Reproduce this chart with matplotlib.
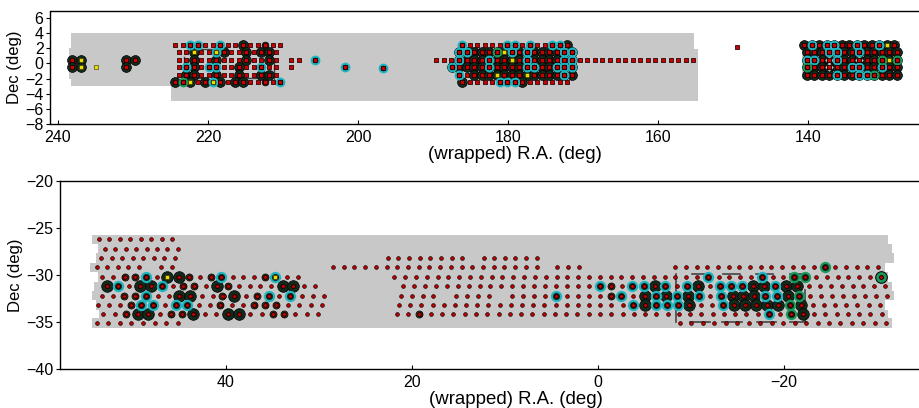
import numpy as np
import matplotlib
matplotlib.use("Agg")
import matplotlib.pyplot as plt
from matplotlib.patches import Polygon

plt.rcParams['font.family'] = ['Liberation Sans', 'DejaVu Sans']

# ---------------- top strip (equator) ----------------
# small pointings, rows given as (dec, first RA, last RA, number of pointings)
top_rows = [
    (2.5, 224.4, 210.4, 15), (1.5, 223.9, 210.9, 14), (0.5, 223.9, 210.9, 14),
    (-0.5, 223.9, 210.9, 14), (-1.5, 223.9, 210.9, 14), (-2.5, 224.4, 210.4, 15),
    (0.5, 208.9, 207.9, 2), (-0.5, 208.9, 208.9, 1),
    (0.5, 189.6, 155.3, 35),
    (2.5, 186.1, 172.1, 15), (1.5, 186.5, 171.5, 16), (-0.5, 187.5, 171.5, 17),
    (-1.5, 186.5, 171.5, 16), (-2.5, 186.1, 172.1, 15),
    (2.5, 140.5, 128.5, 13), (1.5, 140.2, 128.2, 13), (0.5, 140.2, 128.2, 13),
    (-0.5, 140.2, 128.2, 13), (-1.5, 140.2, 128.2, 13),
    (2.2, 149.5, 149.5, 1),
]
# fully observed blocks (dark big markers), same row format
top_dark_rows = [
    (1.5, 186.5, 171.5, 16), (0.5, 186.5, 171.5, 16), (-0.5, 187.5, 171.5, 17),
    (-1.5, 184.5, 171.5, 14),
    (2.5, 140.5, 128.5, 13), (1.5, 140.2, 128.2, 13), (0.5, 140.2, 128.2, 13),
    (-0.5, 140.2, 128.2, 13), (-1.5, 140.2, 128.2, 13),
]
top_dark = [(238.1, 0.5), (236.9, 0.5), (238.1, -0.5), (236.9, -0.5),
            (230.9, 0.5), (229.8, 0.5), (230.9, -0.5),
            (215.4, 2.5),
            (221.9, 1.5), (217.9, 1.5), (214.9, 1.5), (212.9, 1.5), (211.9, 1.5),
            (221.9, 0.5), (218.9, 0.5), (214.9, 0.5), (211.9, 0.5),
            (221.9, -0.5), (215.9, -0.5),
            (222.9, -1.5), (221.9, -1.5), (218.9, -1.5), (215.9, -1.5), (212.9, -1.5), (211.9, -1.5),
            (224.4, -2.5), (222.4, -2.5), (220.4, -2.5), (218.4, -2.5), (216.4, -2.5), (215.4, -2.5),
            (186.1, -2.5), (178.1, -2.5), (172.1, 2.5)]
top_medium = [(212.4, 2.5), (212.4, -2.5)]
top_cyan = [(222.4, 2.5), (221.4, 2.5), (218.4, 2.5), (218.9, 1.5),
            (222.9, -0.5), (219.9, -0.5), (218.9, -0.5), (212.9, -0.5),
            (219.4, -2.5), (210.4, -2.5),
            (205.7, 0.5), (201.7, -0.5), (196.7, -0.6),
            (186.1, 2.5), (180.1, 2.5), (179.1, 2.5), (177.1, 2.5), (174.1, 2.5), (173.1, 2.5),
            (186.5, 1.5), (185.5, 1.5), (179.5, 1.5), (177.5, 1.5), (172.5, 1.5), (171.5, 1.5),
            (186.5, 0.5), (182.5, 0.5), (177.5, 0.5), (172.5, 0.5), (171.5, 0.5),
            (187.5, -0.5), (182.5, -0.5), (177.5, -0.5), (176.5, -0.5), (173.5, -0.5),
            (172.5, -0.5), (171.5, -0.5),
            (186.5, -1.5), (172.5, -1.5),
            (181.1, -2.5), (180.1, -2.5), (179.1, -2.5),
            (139.5, 2.5), (137.5, 2.5), (136.5, 2.5), (133.5, 2.5), (130.5, 2.5),
            (137.2, 1.5), (136.2, 1.5), (133.2, 1.5),
            (140.2, 0.5), (139.2, 0.5), (136.2, 0.5),
            (134.2, -0.5), (133.2, -0.5), (130.2, -0.5),
            (136.2, -1.5), (133.2, -1.5), (132.2, -1.5)]
top_green = [(223.4, -2.5), (181.5, 1.5), (130.2, 0.5), (128.2, 0.5), (140.2, -0.5), (131.2, -1.5)]
top_yellow = [(236.9, 0.5), (236.9, -0.5), (234.9, -0.5), (221.9, 1.5), (218.9, 1.5),
              (222.4, -2.5), (219.4, -2.5), (180.5, 1.5), (179.5, 0.5), (181.5, -1.5),
              (177.5, -1.5), (129.5, 2.5), (129.2, 0.5)]
top_holes = [(137.2, 0.5), (137.2, -0.5), (133.2, 0.5)]
top_footprint = [(238.3, 4.0), (155.2, 4.0), (155.2, 1.9), (154.7, 1.9), (154.7, -5.0),
                 (225.0, -5.0), (225.0, -3.0), (238.3, -3.0), (238.3, -2.0), (238.6, -2.0),
                 (238.6, 2.0), (238.3, 2.0)]
top_footprint2 = [(140.8, 3.0), (127.8, 3.0), (127.8, -2.0), (140.8, -2.0)]
top_lines = [((221.1, 1.95), (219.3, 1.95)), ((213.5, 1.95), (211.5, 1.95)),
             ((223.2, 0.9), (223.2, -0.1)), ((211.2, 0.1), (211.2, -2.0)),
             ((214.8, -1.95), (212.8, -1.95)), ((221.6, -1.95), (220.2, -1.95))]

# ---------------- bottom strip (south) ----------------
bot_rows = [
    (-26.2, 53.7, 45.8, 8), (-27.2, 53.0, 45.2, 8),
    (-28.2, 53.4, 45.5, 8), (-28.2, 22.6, 14.6, 8), (-28.2, 12.3, 6.6, 6),
    (-29.2, 53.9, 49.4, 5), (-29.2, 47.0, 45.8, 2), (-29.2, 28.5, 6.6, 20),
    (-29.2, 4.4, 2.1, 3), (-29.2, -8.3, -30.1, 20),
    (-30.2, 53.3, 32.3, 19), (-30.2, 21.9, -30.4, 46),
    (-31.2, 52.8, 30.4, 20), (-31.2, 21.0, -30.9, 45),
    (-32.2, 53.3, 29.5, 21), (-32.2, 21.2, 17.7, 4), (-32.2, 15.3, 11.7, 4),
    (-32.2, 9.3, -31.1, 35),
    (-33.2, 53.8, 29.7, 21), (-33.2, 21.4, -30.3, 44),
    (-34.2, 53.2, 30.1, 20), (-34.2, 21.6, -30.5, 44),
    (-35.1, 53.9, 45.2, 8), (-35.1, -8.8, -31.0, 19),
]
bot_dark = [(45.1, -30.2), (46.3, -30.2),
            (52.8, -31.2), (49.2, -31.2), (48.1, -31.2), (41.0, -31.2), (33.9, -31.2), (32.8, -31.2),
            (45.1, -32.2), (43.9, -32.2), (39.1, -32.2),
            (49.5, -34.2), (48.4, -34.2), (43.5, -34.2), (39.8, -34.2), (38.6, -34.2),
            (-6.1, -31.2), (-10.8, -31.2), (-16.7, -31.2), (-17.8, -31.2), (-20.2, -31.2), (-21.4, -31.2),
            (-5.0, -32.2), (-7.3, -32.2), (-9.7, -32.2), (-14.5, -32.2), (-15.6, -32.2),
            (-16.8, -32.2), (-20.4, -32.2),
            (-5.0, -33.2), (-9.8, -33.2), (-14.6, -33.2), (-15.8, -33.2), (-17.0, -33.2),
            (-18.2, -33.2), (-19.4, -33.2), (-21.8, -33.2),
            (-22.0, -34.2)]
bot_medium = [(50.9, -30.2), (49.8, -30.2), (44.0, -30.2), (41.6, -30.2), (35.8, -30.2),
              (44.6, -31.2), (43.4, -31.2), (39.8, -31.2),
              (51.0, -32.2), (49.8, -32.2), (40.4, -32.2), (36.7, -32.2),
              (50.2, -33.2), (40.6, -33.2), (37.0, -33.2), (35.8, -33.2), (34.6, -33.2),
              (50.8, -34.2), (45.9, -34.2), (44.7, -34.2), (35.0, -34.2), (33.8, -34.2),
              (19.2, -34.2), (-1.4, -31.2), (-1.4, -32.2)]
bot_cyan = [(48.6, -30.2), (40.5, -30.2), (34.7, -30.2),
            (51.6, -31.2), (46.9, -31.2),
            (48.6, -32.2), (35.4, -32.2), (33.1, -32.2),
            (49.1, -33.2), (47.8, -33.2), (45.4, -33.2), (44.2, -33.2),
            (4.5, -32.2), (-0.2, -31.2), (-3.7, -31.2), (-4.9, -31.2), (-7.2, -31.2),
            (-2.5, -32.2), (-6.2, -32.2), (-8.5, -32.2),
            (-3.8, -33.2), (-6.2, -33.2), (-7.4, -33.2), (-8.6, -33.2),
            (-11.8, -30.2), (-17.6, -30.2),
            (-9.6, -31.2), (-13.1, -31.2), (-14.3, -31.2), (-15.5, -31.2), (-19.0, -31.2),
            (-10.9, -32.2), (-13.2, -32.2), (-18.0, -32.2), (-19.2, -32.2),
            (-13.4, -33.2), (-18.4, -34.2)]
bot_green = [(-24.4, -29.2), (-21.1, -30.2), (-22.3, -30.2), (-21.6, -32.2),
             (-20.6, -33.2), (-20.8, -34.2)]
bot_green_full = [(-30.4, -30.2)]
bot_yellow = [(46.3, -30.2), (34.7, -30.2)]
# footprint strips: one per pointing row (dec, RA left edge, RA right edge)
bot_strip_dec = [-26.2, -27.2, -28.2, -29.2, -30.2, -31.2, -32.2, -33.2, -34.2, -35.1]
bot_strip_left = [54.4, 53.8, 54.0, 54.6, 53.8, 54.2, 54.4, 54.0, 53.7, 54.4]
bot_strip_right = [-31.2, -31.6, -31.8, -30.8, -31.2, -31.6, -31.8, -30.9, -31.2, -31.6]
bot_lines = [((-8.4, -29.9), (-8.4, -35.0)), ((-22.3, -31.6), (-22.3, -35.0)),
             ((-10.1, -29.9), (-12.0, -29.9)), ((-13.4, -29.9), (-15.3, -29.9)),
             ((-17.0, -29.9), (-18.8, -29.9)), ((-20.6, -29.9), (-22.4, -29.9)),
             ((-9.9, -35.0), (-12.0, -35.0)), ((-13.3, -35.0), (-15.5, -35.0)),
             ((-17.1, -35.0), (-19.1, -35.0)), ((-20.6, -35.0), (-22.4, -35.0))]

GRAY = '#c8c8c8'
DARK = '#112a1b'
RED = '#cc0000'
CYAN = '#1eb4c0'
GREEN = '#18985a'
YELLOW = '#e8dc00'
MED = '#3d3419'


def expand(rows):
    pts = []
    for dec, ra0, ra1, n in rows:
        for ra in np.linspace(ra0, ra1, n):
            pts.append((ra, dec))
    return pts


def xy(pts):
    a = np.array(pts, dtype=float).reshape(-1, 2)
    return a[:, 0], a[:, 1]


def draw_panel(ax, small, dark, medium, cyan, green, green_full, yellow, holes, sz, small_marker):
    big = dark + medium + cyan + green + green_full
    x, y = xy(dark)
    ax.scatter(x, y, s=sz['dark'], c=DARK, edgecolors='black', linewidths=0.5, zorder=3)
    if holes:
        x, y = xy(holes)
        ax.scatter(x, y, s=sz['hole'], marker='D', c=GRAY, linewidths=0, zorder=3.2)
    x, y = xy(medium)
    ax.scatter(x, y, s=sz['medium'], c=MED, edgecolors='black', linewidths=0.5, zorder=3.3)
    x, y = xy(cyan)
    ax.scatter(x, y, s=sz['cyan'], c=DARK, edgecolors=CYAN, linewidths=1.5, zorder=3.5)
    x, y = xy(green)
    ax.scatter(x, y, s=sz['cyan'], c=DARK, edgecolors=GREEN, linewidths=1.5, zorder=3.5)
    if green_full:
        x, y = xy(green_full)
        ax.scatter(x, y, s=sz['dark'], c=GREEN, edgecolors='black', linewidths=0.7, zorder=3.5)
    x, y = xy(small + big)
    ax.scatter(x, y, s=sz['small'], marker=small_marker, c=RED, edgecolors='#1a0000',
               linewidths=0.55, zorder=4)
    x, y = xy(yellow)
    ax.scatter(x, y, s=sz['yellow'], marker='s', c=YELLOW, edgecolors='#303000',
               linewidths=0.4, zorder=5)


def style(ax):
    for s in ax.spines.values():
        s.set_linewidth(1.0)
    ax.spines['right'].set_visible(False)
    ax.tick_params(axis='x', direction='in', length=3, width=0.8, labelsize=11.5, pad=4)
    ax.tick_params(axis='y', direction='out', length=3, width=0.8, labelsize=11.5, pad=2)
    ax.set_xlabel('(wrapped) R.A. (deg)', fontsize=13.4, labelpad=1)
    ax.set_ylabel('Dec (deg)', fontsize=12, labelpad=2)


fig = plt.figure(figsize=(9.2, 4.08), dpi=100)

# top panel (right end of the axes runs past the figure edge)
ax1 = fig.add_axes([50.5 / 920, 1 - 124 / 408, 928 / 920, 113.5 / 408])
ax1.add_patch(Polygon(top_footprint, closed=True, fc=GRAY, ec='none', zorder=1))
ax1.add_patch(Polygon(top_footprint2, closed=True, fc=GRAY, ec='none', zorder=1))
for (a, b) in top_lines:
    ax1.plot([a[0], b[0]], [a[1], b[1]], color='#444444', lw=1.0, zorder=2)
sz_top = dict(small=5.5, dark=50, medium=24, cyan=31, hole=18, yellow=6)
draw_panel(ax1, expand(top_rows), expand(top_dark_rows) + top_dark, top_medium, top_cyan,
           top_green, [], top_yellow, top_holes, sz_top, 's')
ax1.set_xlim(241, 117.27)
ax1.set_ylim(-8, 7)
ax1.set_xticks([240, 220, 200, 180, 160, 140])
ax1.set_yticks([-8, -6, -4, -2, 0, 2, 4, 6])
style(ax1)

# bottom panel
ax2 = fig.add_axes([60 / 920, 1 - 369 / 408, 911 / 920, 188 / 408])
for d, l, r in zip(bot_strip_dec, bot_strip_left, bot_strip_right):
    ax2.fill_between([l, r], d - 0.5, d + 0.5, color=GRAY, lw=0, zorder=1)
for (a, b) in bot_lines:
    ax2.plot([a[0], b[0]], [a[1], b[1]], color='#444444', lw=1.2, zorder=2)
sz_bot = dict(small=7, dark=70, medium=26, cyan=44, hole=20, yellow=9)
draw_panel(ax2, expand(bot_rows), bot_dark, bot_medium, bot_cyan, bot_green, bot_green_full,
           bot_yellow, [], sz_bot, 'o')
ax2.set_xlim(57.85, -40.1)
ax2.set_ylim(-40, -20)
ax2.set_xticks([40, 20, 0, -20])
ax2.set_yticks([-40, -35, -30, -25, -20])
style(ax2)

fig.savefig('out.png', dpi=100)
